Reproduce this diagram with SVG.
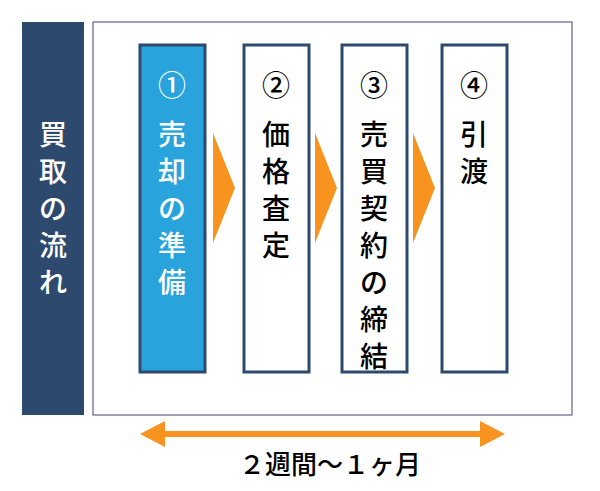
<svg xmlns="http://www.w3.org/2000/svg" width="600" height="491" viewBox="0 0 600 491">
<style>
.box{stroke:#2d4a6e;stroke-width:3}
.t{font-family:"Noto Sans CJK JP",sans-serif;font-size:28px;font-weight:500;text-anchor:middle}
.tri{fill:#f7931e}
</style>
<rect width="600" height="491" fill="#fff"/>
<g id="side"><rect x="22" y="22" width="62" height="393" fill="#2d4a6e"/>
<text class="t" fill="#fff"><tspan x="53" y="145">買</tspan><tspan x="53" y="182">取</tspan><tspan x="53" y="219">の</tspan><tspan x="53" y="256">流</tspan><tspan x="53" y="293">れ</tspan></text></g>
<g id="frame"><rect x="93" y="22" width="479" height="393" fill="none" stroke="#4a3f7a" stroke-width="1"/></g>
<g id="n1"><rect class="box" x="140" y="45" width="65" height="327" fill="#29a3dc"/>
<text class="t" fill="#fff"><tspan x="172" y="96">①</tspan><tspan x="172" y="145">売</tspan><tspan x="172" y="182">却</tspan><tspan x="172" y="219">の</tspan><tspan x="172" y="256">準</tspan><tspan x="172" y="293">備</tspan></text></g>
<g id="n2"><rect class="box" x="244" y="45" width="65" height="327" fill="#fff"/>
<text class="t" fill="#000"><tspan x="276" y="96">②</tspan><tspan x="276" y="145">価</tspan><tspan x="276" y="182">格</tspan><tspan x="276" y="219">査</tspan><tspan x="276" y="256">定</tspan></text></g>
<g id="n3"><rect class="box" x="342" y="45" width="65" height="327" fill="#fff"/>
<text class="t" fill="#000"><tspan x="374" y="96">③</tspan><tspan x="374" y="145">売</tspan><tspan x="374" y="182">買</tspan><tspan x="374" y="219">契</tspan><tspan x="374" y="256">約</tspan><tspan x="374" y="293">の</tspan><tspan x="374" y="330">締</tspan><tspan x="374" y="367">結</tspan></text></g>
<g id="n4"><rect class="box" x="442" y="45" width="65" height="327" fill="#fff"/>
<text class="t" fill="#000"><tspan x="474" y="96">④</tspan><tspan x="474" y="145">引</tspan><tspan x="474" y="182">渡</tspan></text></g>
<g id="connectors">
<polygon class="tri" points="213,133 235,188 213,243"/>
<polygon class="tri" points="315,133 337,188 315,243"/>
<polygon class="tri" points="413,133 435,188 413,243"/>
<line x1="160" y1="434" x2="485" y2="434" stroke="#f7931e" stroke-width="6"/>
<polygon class="tri" points="140,434 165,421 165,447"/>
<polygon class="tri" points="505,434 480,421 480,447"/>
</g>
<text x="330" y="474" font-family="Noto Sans CJK JP,sans-serif" font-size="26" font-weight="500" text-anchor="middle" fill="#000">２週間～１ヶ月</text>
</svg>
